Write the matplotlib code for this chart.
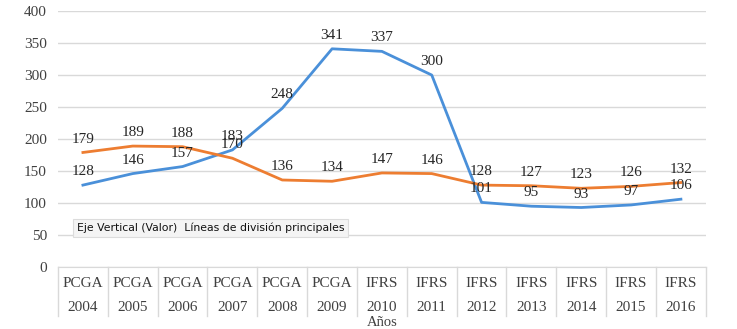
import matplotlib.pyplot as plt
from matplotlib.transforms import blended_transform_factory

norma = ["PCGA"] * 6 + ["IFRS"] * 7
anios = ["2004", "2005", "2006", "2007", "2008", "2009", "2010",
         "2011", "2012", "2013", "2014", "2015", "2016"]
serie_azul = [128, 146, 157, 183, 248, 341, 337, 300, 101, 95, 93, 97, 106]
serie_naranja = [179, 189, 188, 170, 136, 134, 147, 146, 128, 127, 123, 126, 132]

plt.rcParams["font.family"] = ["Liberation Serif", "DejaVu Serif"]

fig = plt.figure(figsize=(7.37, 3.29), dpi=100)
ax = fig.add_axes([0.0787, 0.1884, 0.879, 0.778])

x = list(range(len(anios)))
ax.plot(x, serie_azul, color="#4a90d9", lw=2)
ax.plot(x, serie_naranja, color="#ed7d31", lw=2)

for xi, v in zip(x, serie_azul):
    ax.annotate(str(v), (xi, v), xytext=(0, 5), textcoords="offset points",
                ha="center", va="bottom", fontsize=11, color="#262626")
for xi, v in zip(x, serie_naranja):
    ax.annotate(str(v), (xi, v), xytext=(0, 5), textcoords="offset points",
                ha="center", va="bottom", fontsize=11, color="#262626")

ax.set_xlim(-0.5, len(anios) - 0.5)
ax.set_ylim(0, 400)
ax.set_yticks(range(0, 401, 50))
ax.tick_params(axis="y", length=0, labelsize=11, labelcolor="#404040", pad=8)
ax.set_xticks([])
ax.grid(axis="y", color="#d9d9d9", lw=1)
ax.set_axisbelow(True)
for s in ["top", "right", "left"]:
    ax.spines[s].set_visible(False)
ax.spines["bottom"].set_color("#d9d9d9")

# two-level category table under the axis
trans = blended_transform_factory(ax.transData, ax.transAxes)
for b in range(len(anios) + 1):
    ax.plot([b - 0.5, b - 0.5], [0, -0.19], color="#d9d9d9", lw=1,
            transform=trans, clip_on=False)
for xi, (n, a) in enumerate(zip(norma, anios)):
    ax.text(xi, -0.065, n, transform=trans, ha="center", va="center",
            fontsize=11, color="#404040")
    ax.text(xi, -0.16, a, transform=trans, ha="center", va="center",
            fontsize=11, color="#404040")
ax.text(0.5, -0.215, "Años", transform=ax.transAxes, ha="center", va="center",
        fontsize=10.5, color="#404040")

fig.text(0.104, 0.308, "Eje Vertical (Valor)  Líneas de división principales",
         family=["DejaVu Sans"], fontsize=7.8, color="#111111", va="center",
         bbox=dict(boxstyle="square,pad=0.35", fc="#f4f4f4", ec="#dcdcdc", lw=0.8))

fig.savefig("out.png", dpi=100)
